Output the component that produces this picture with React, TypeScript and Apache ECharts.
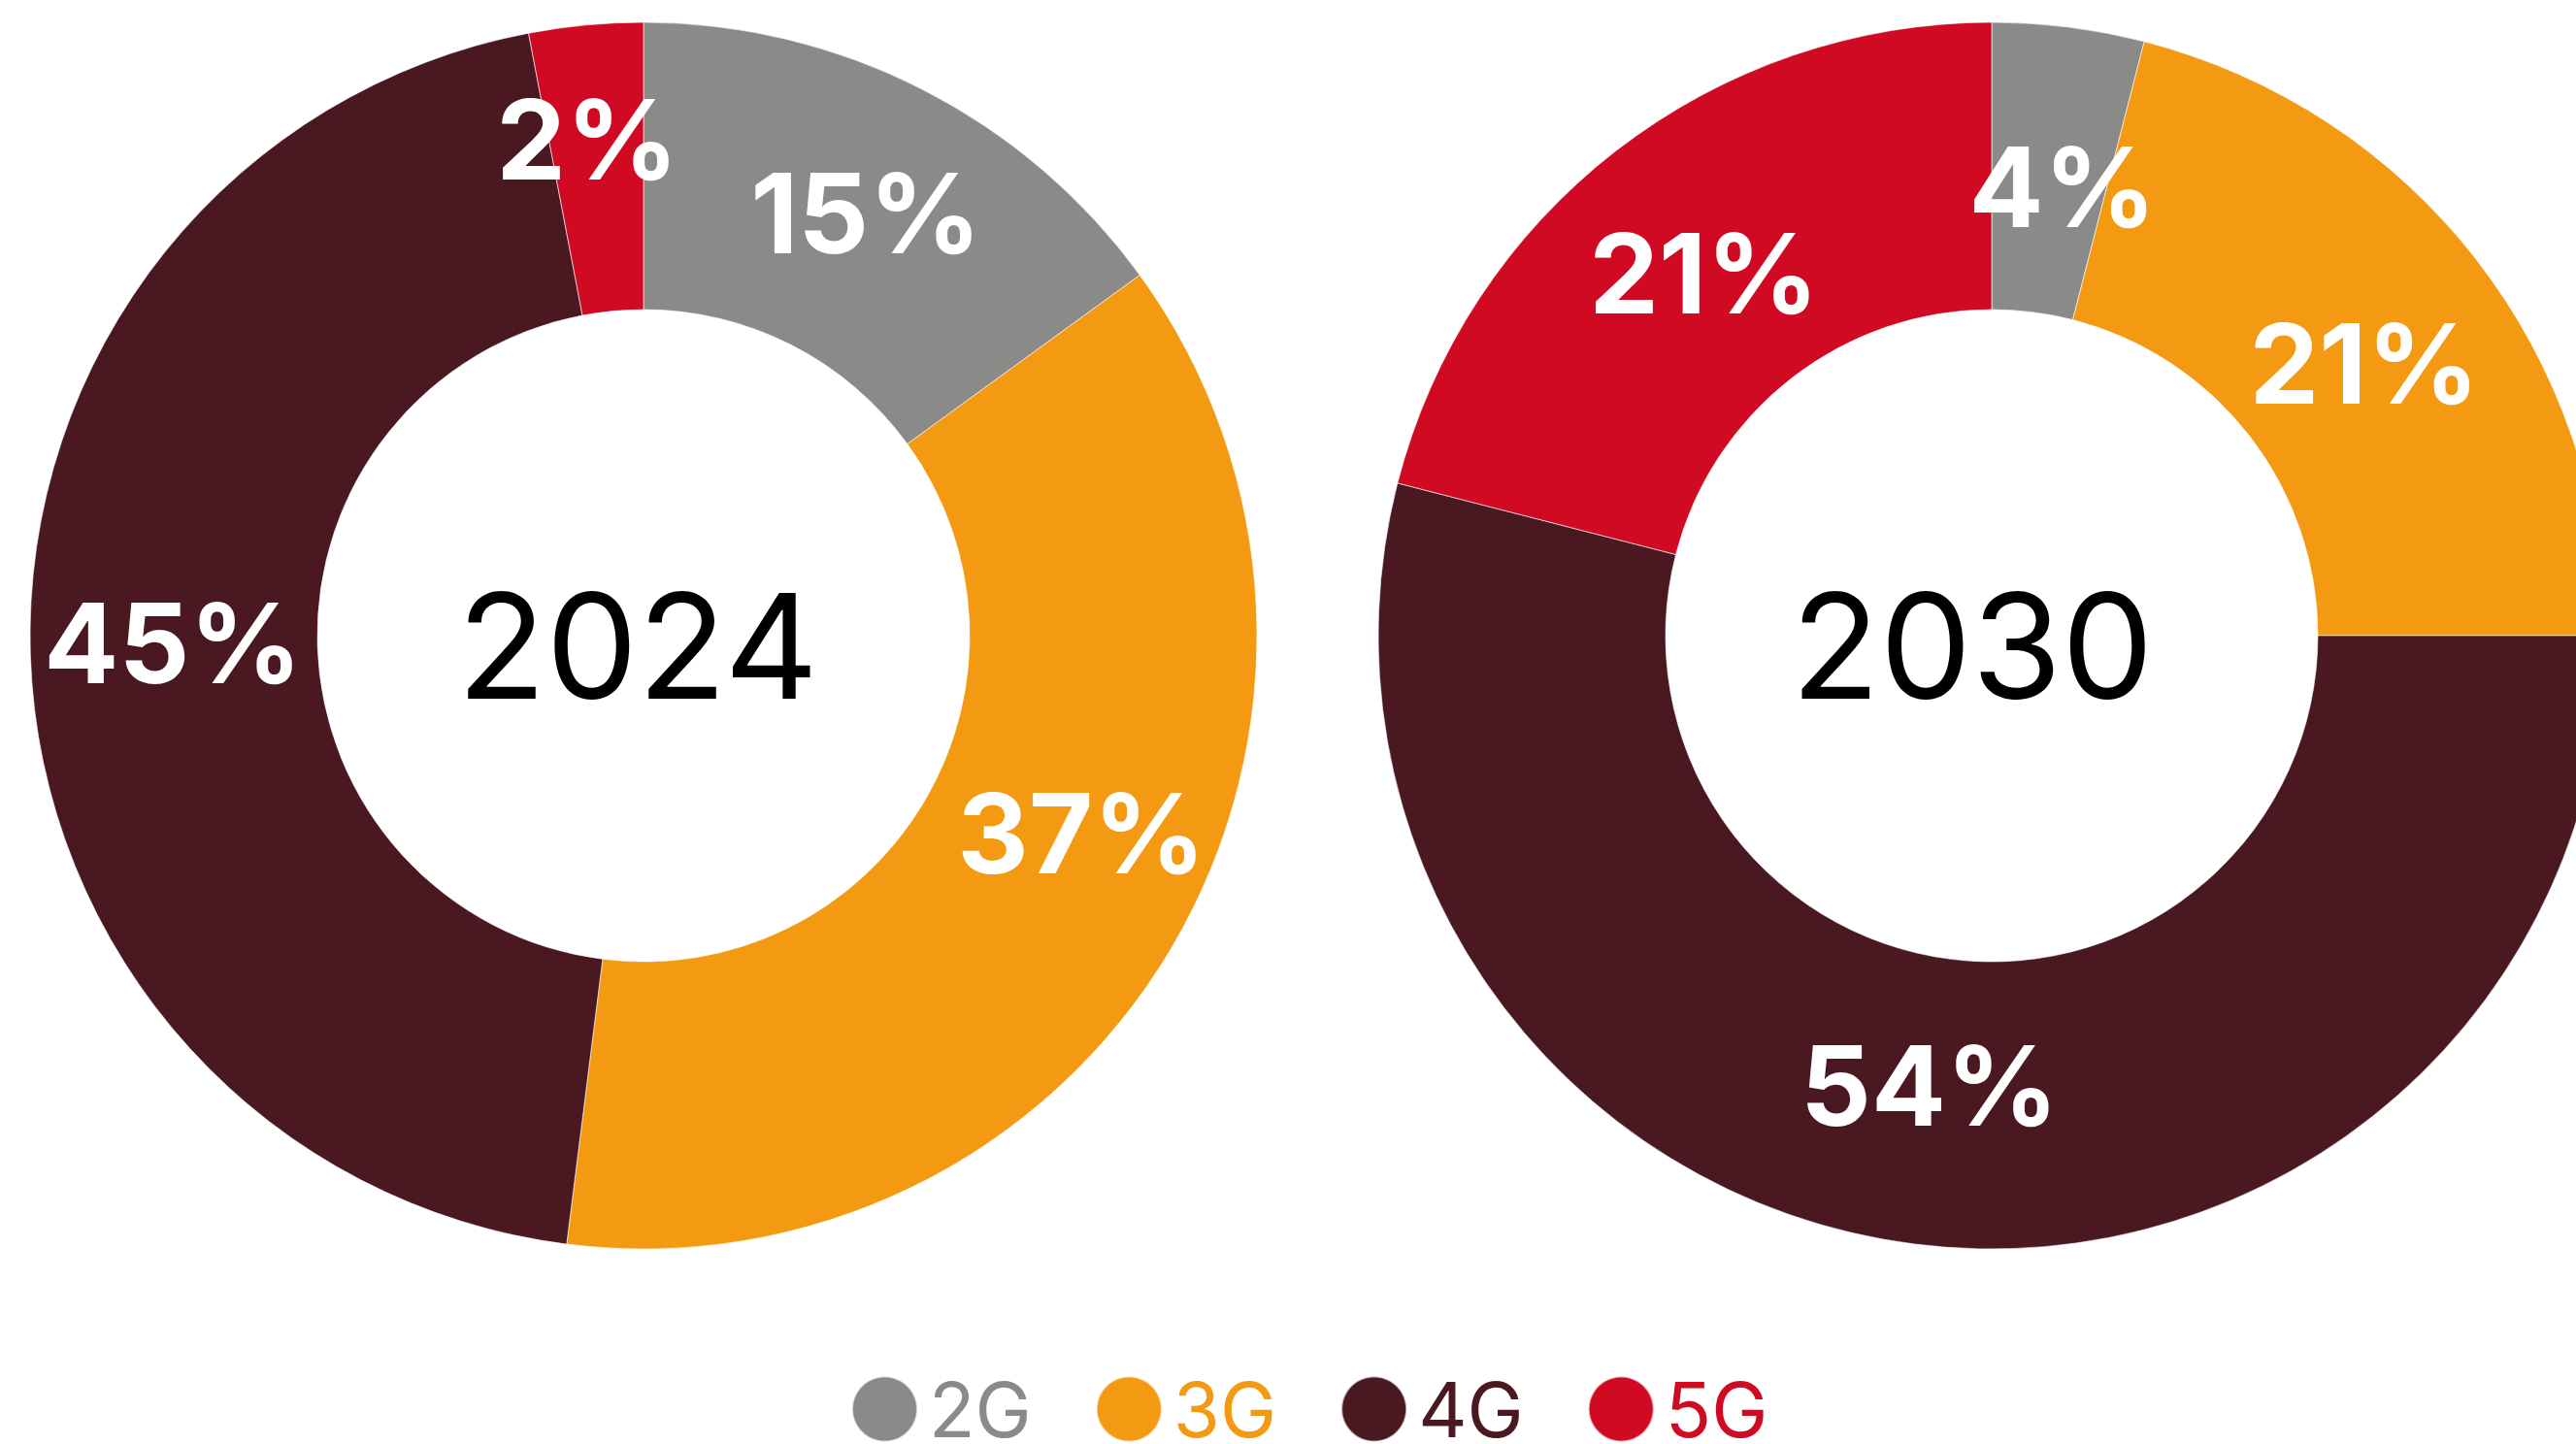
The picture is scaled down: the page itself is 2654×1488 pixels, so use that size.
import React, { useEffect, useRef } from "react";
import * as echarts from "echarts";

const categories = ["2G", "3G", "4G", "5G"];
const colors = ["#8a8a88", "#f39a12", "#4a1820", "#d00a22"];
const years = ["2024", "2030"];
const values2024 = [15, 37, 45, 3];
const labels2024 = ["15%", "37%", "45%", "2%"];
const values2030 = [4, 21, 54, 21];
const labels2030 = ["4%", "21%", "54%", "21%"];

// small label nudges (pixels) so labels sit where the reference puts them
const nudge2024 = [[8, -2], [32, -44], [2, -8], [-12, -27]];
const nudge2030 = [[12, 21], [-1, 18], [-3, -20], [2, 11]];

const FONT = "Inter, Roboto, sans-serif";

function makePie(name: string, center: number[], values: number[], labels: string[], nudge: number[][]) {
  return {
    type: "pie",
    name,
    center,
    radius: [336, 632],
    startAngle: 90,
    clockwise: true,
    silent: true,
    avoidLabelOverlap: false,
    emphasis: { disabled: true },
    itemStyle: { borderColor: "rgba(255,255,255,0.6)", borderWidth: 1 },
    label: {
      show: true,
      position: "inside",
      formatter: (p: any) => labels[p.dataIndex],
      color: "#ffffff",
      fontSize: 114,
      fontWeight: "bold",
      fontFamily: FONT,
    },
    labelLine: { show: false },
    data: categories.map((c, i) => ({
      name: c,
      value: values[i],
      itemStyle: { color: colors[i] },
      label: { offset: nudge[i] },
    })),
  };
}

export default function App() {
  const ref = useRef<HTMLDivElement>(null);
  useEffect(() => {
    if (!ref.current) return;
    const chart = echarts.init(ref.current, undefined, { renderer: "svg" });
    chart.setOption({
      animation: false,
      backgroundColor: "#ffffff",
      legend: {
        left: 872,
        top: 1408,
        icon: "circle",
        itemWidth: 67,
        itemHeight: 67,
        itemGap: 66,
        selectedMode: false,
        data: categories.map((c, i) => ({ name: c, textStyle: { color: colors[i] } })),
        textStyle: { fontSize: 78, lineHeight: 67, fontFamily: FONT, padding: [0, 0, 0, 7] },
      },
      graphic: [
        {
          type: "text",
          x: 657,
          y: 665,
          style: { text: years[0], fill: "#000000", fontSize: 150, fontFamily: FONT, align: "center", verticalAlign: "middle" },
        },
        {
          type: "text",
          x: 2032,
          y: 665,
          style: { text: years[1], fill: "#000000", fontSize: 150, fontFamily: FONT, align: "center", verticalAlign: "middle" },
        },
      ],
      series: [
        makePie(years[0], [663, 655], values2024, labels2024, nudge2024),
        makePie(years[1], [2052, 655], values2030, labels2030, nudge2030),
      ],
    });
    return () => chart.dispose();
  }, []);
  return <div ref={ref} style={{ position: "absolute", left: 0, top: 0, width: 2654, height: 1488 }} />;
}
